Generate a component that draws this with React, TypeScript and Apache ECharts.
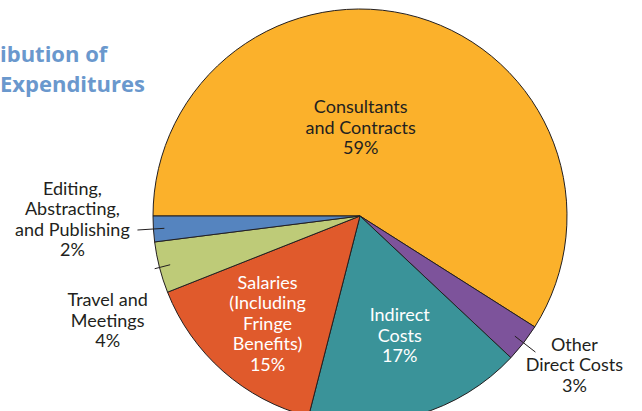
import React, { useEffect, useRef } from 'react';
import * as echarts from 'echarts';

// ---- Data ----
const categories = [
  'Consultants and Contracts',
  'Other Direct Costs',
  'Indirect Costs',
  'Salaries (Including Fringe Benefits)',
  'Travel and Meetings',
  'Editing, Abstracting, and Publishing',
];
const labelLines = [
  ['Consultants', 'and Contracts'],
  ['Other', 'Direct Costs'],
  ['Indirect', 'Costs'],
  ['Salaries', '(Including', 'Fringe', 'Benefits)'],
  ['Travel and', 'Meetings'],
  ['Editing,', 'Abstracting,', 'and Publishing'],
];
const values = [59, 3, 17, 15, 4, 2];
const titleLines = ['ibution of', 'Expenditures'];

// ---- Styles ----
const colors = ['#FBB12B', '#7D539B', '#3A9399', '#E05A2C', '#BECB78', '#5584BF'];
const FONT = "Lato, 'Open Sans', sans-serif";
const TITLE_FONT = "'Open Sans', 'Noto Sans', sans-serif";
const DARK = '#231F20';

// label placement tweaks (per slice index)
const insideCfg: Record<number, any> = {
  0: { color: DARK, padding: [26, 58, 0, 0] },
  2: { color: '#FFFFFF', padding: [33, 0, 0, 20] },
  3: { color: '#FFFFFF', padding: [54, 44, 0, 0] },
};
const outsideCfg: Record<number, any> = {
  1: { label: { width: 68, padding: [24, 0, 0, 0] }, len: 26 },
  4: { label: { width: 84, padding: [102, 0, 0, 0] }, len: 16 },
  5: { label: { width: 120, padding: [0, 0, 23, 0] }, len: 27 },
};

const formatter = (p: any) =>
  labelLines[p.dataIndex].map((l) => `{t|${l}}`).join('\n') + `\n{t|${p.value}%}`;

const rich = {
  t: { align: 'center', fontFamily: FONT, fontSize: 18, lineHeight: 20.5 },
};

export default function App() {
  const ref = useRef<HTMLDivElement>(null);

  useEffect(() => {
    if (!ref.current) return;
    const chart = echarts.init(ref.current, undefined, { renderer: 'svg' });

    const center = [360, 216];

    const mainData = values.map((v, i) => ({
      name: categories[i],
      value: v,
      itemStyle: { color: colors[i] },
      label: insideCfg[i] ? { show: true, ...insideCfg[i] } : { show: false },
    }));

    const outerData = values.map((v, i) => ({
      name: categories[i],
      value: v,
      label: outsideCfg[i] ? { show: true, ...outsideCfg[i].label } : { show: false },
      labelLine: outsideCfg[i]
        ? { show: true, length: outsideCfg[i].len, length2: 0 }
        : { show: false },
    }));

    const titleStyle = {
      fontFamily: TITLE_FONT,
      fontWeight: 'bold',
      fontSize: 22,
      fill: '#6A98CD',
      verticalAlign: 'middle',
    };

    chart.setOption({
      animation: false,
      graphic: [
        { type: 'text', x: 0, y: 53, style: { text: titleLines[0], ...titleStyle } },
        { type: 'text', x: 0, y: 83, style: { text: titleLines[1], ...titleStyle } },
      ],
      series: [
        {
          type: 'pie',
          radius: 207,
          center,
          startAngle: 180,
          clockwise: true,
          avoidLabelOverlap: false,
          emphasis: { disabled: true },
          itemStyle: { borderColor: DARK, borderWidth: 1 },
          label: { show: true, position: 'inside', formatter, rich },
          labelLine: { show: false },
          data: mainData,
        },
        {
          type: 'pie',
          z: 5,
          radius: 196,
          center,
          startAngle: 180,
          clockwise: true,
          silent: true,
          avoidLabelOverlap: false,
          emphasis: { disabled: true },
          itemStyle: { color: 'rgba(0,0,0,0)', borderWidth: 0 },
          label: {
            show: true,
            position: 'outside',
            color: DARK,
            formatter,
            rich,
            distanceToLabelLine: 5,
            overflow: 'none',
          },
          labelLine: {
            show: true,
            length: 20,
            length2: 0,
            lineStyle: { color: DARK, width: 1 },
          },
          data: outerData,
        },
      ],
    });

    return () => chart.dispose();
  }, []);

  return (
    <div
      ref={ref}
      style={{ position: 'fixed', left: 0, top: 0, width: 642, height: 411, background: '#fff' }}
    />
  );
}
